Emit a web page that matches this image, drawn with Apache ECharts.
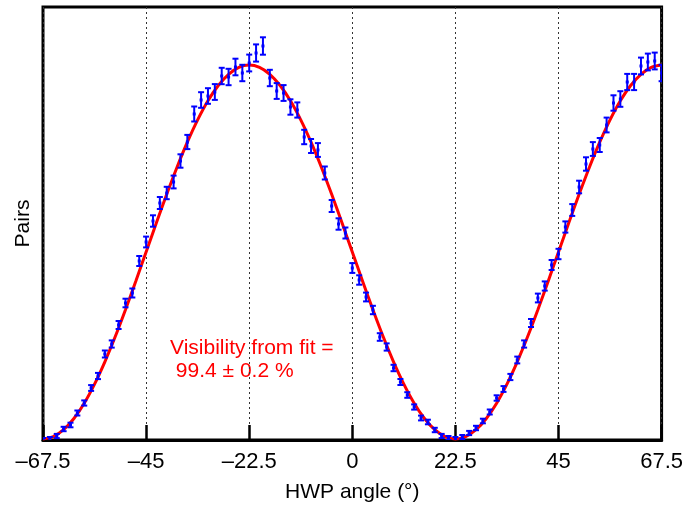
<!DOCTYPE html>
<html>
<head>
<meta charset="utf-8">
<script src="https://cdn.jsdelivr.net/npm/echarts@6/dist/echarts.min.js"></script>
<style>
  html, body { margin: 0; padding: 0; background: #fff; }
  #chart-container { width: 686px; height: 514px; }
</style>
</head>
<body>
<div id="chart-container"></div>
<script>
// HWP angles (deg) of the measured points, one every 1.5 deg
const angles = [
  -67.5, -66, -64.5, -63, -61.5, -60, -58.5, -57, -55.5, -54, -52.5, -51, -49.5, -48, -46.5,
  -45, -43.5, -42, -40.5, -39, -37.5, -36, -34.5, -33, -31.5, -30, -28.5, -27, -25.5, -24,
  -22.5, -21, -19.5, -18, -16.5, -15, -13.5, -12, -10.5, -9, -7.5, -6, -4.5, -3, -1.5,
  0, 1.5, 3, 4.5, 6, 7.5, 9, 10.5, 12, 13.5, 15, 16.5, 18, 19.5, 21,
  22.5, 24, 25.5, 27, 28.5, 30, 31.5, 33, 34.5, 36, 37.5, 39, 40.5, 42, 43.5,
  45, 46.5, 48, 49.5, 51, 52.5, 54, 55.5, 57, 58.5, 60, 61.5, 63, 64.5, 66, 67.5
];

const pairs = [
  0, 1, 4, 11, 15, 27, 37, 52, 64, 86, 96, 115, 137, 147, 179,
  198, 219, 237, 247, 258, 279, 298, 326, 340, 344, 348, 364, 363, 373, 367,
  377, 387, 394, 362, 349, 347, 333, 330, 303, 294, 290, 267, 234, 216, 207,
  172, 160, 143, 130, 103, 93, 72, 58, 45, 33, 22, 18, 10, 4, 2,
  1, 3, 7, 12, 19, 28, 42, 51, 63, 80, 96, 117, 142, 154, 175,
  186, 213, 230, 253, 276, 291, 295, 315, 337, 341, 358, 358, 374, 378, 379, 367
];

// half length of the error bars
const errors = [
  2, 2, 2.1, 2.2, 2.3, 2.5, 2.6, 2.9, 3.1, 3.5, 3.6, 4, 4.3, 4.5, 5,
  5.4, 5.7, 6, 6.2, 6.4, 6.7, 7.1, 7.5, 7.8, 7.8, 7.9, 8.2, 8.2, 8.3, 8.2,
  8.4, 8.6, 8.7, 8.2, 7.9, 7.9, 7.7, 7.6, 7.2, 7, 6.9, 6.5, 6, 5.7, 5.5,
  4.9, 4.7, 4.4, 4.2, 3.8, 3.6, 3.2, 3, 2.8, 2.6, 2.4, 2.3, 2.2, 2.1, 2,
  2, 2, 2.1, 2.2, 2.3, 2.5, 2.7, 2.9, 3.1, 3.4, 3.6, 4, 4.4, 4.6, 5,
  5.2, 5.6, 5.9, 6.3, 6.7, 6.9, 7, 7.4, 7.7, 7.8, 8.1, 8.1, 8.4, 8.4, 8.4, 8.2
];

// fit curve, sampled every 2.25 deg from -67.5 to 67.5
const fitStart = -67.5;
const fitStep = 2.25;
const fitValues = [
  1.1, 3.4, 10.3, 21.5, 36.8, 55.9, 78.2, 103.2, 130.3, 158.8,
  188, 217.2, 245.7, 272.8, 297.8, 320.1, 339.2, 354.5, 365.7, 372.6,
  374.9, 372.6, 365.7, 354.5, 339.2, 320.1, 297.8, 272.8, 245.7, 217.2,
  188, 158.8, 130.3, 103.2, 78.2, 55.9, 36.8, 21.5, 10.3, 3.4,
  1.1, 3.4, 10.3, 21.5, 36.8, 55.9, 78.2, 103.2, 130.3, 158.8,
  188, 217.2, 245.7, 272.8, 297.8, 320.1, 339.2, 354.5, 365.7, 372.6,
  374.9
];

const pointData = angles.map((a, i) => [a, pairs[i], errors[i]]);
const fitData = fitValues.map((v, i) => [fitStart + i * fitStep, v]);

const fontFam = '"Liberation Sans", Arial, Helvetica, sans-serif';

const myChart = echarts.init(document.getElementById('chart-container'));
const option = {
  animation: false,
  grid: {
    left: 43, right: 23, top: 7, bottom: 74,
    show: true,
    borderColor: '#000',
    borderWidth: 3,
    backgroundColor: 'transparent'
  },
  xAxis: {
    type: 'value',
    min: -67.5,
    max: 67.5,
    interval: 22.5,
    name: 'HWP angle (°)',
    nameLocation: 'middle',
    nameGap: 42,
    nameTextStyle: { color: '#000', fontSize: 21, fontFamily: fontFam },
    axisLine: { lineStyle: { color: '#000', width: 3 } },
    axisTick: { inside: true, length: 15, lineStyle: { color: '#000', width: 2.5 } },
    axisLabel: {
      color: '#000',
      fontSize: 22,
      fontFamily: fontFam,
      margin: 11,
      formatter: v => (v < 0 ? '\u2013' + Math.abs(v) : String(v))
    },
    splitLine: {
      show: true,
      lineStyle: { color: '#333', width: 1, type: [2, 3] }
    }
  },
  yAxis: {
    type: 'value',
    min: 0,
    max: 433,
    name: 'Pairs',
    nameLocation: 'middle',
    nameGap: 9,
    nameTextStyle: { color: '#000', fontSize: 21, fontFamily: fontFam },
    axisLine: { show: false },
    axisTick: { show: false },
    axisLabel: { show: false },
    splitLine: { show: false }
  },
  graphic: [{
    type: 'text',
    left: 170,
    top: 337,
    style: {
      text: 'Visibility from fit =\n 99.4 \u00b1 0.2 %',
      fill: '#ff0000',
      fontSize: 21,
      fontFamily: fontFam,
      lineHeight: 23
    }
  }],
  series: [
    {
      name: 'Fit',
      type: 'line',
      data: fitData,
      smooth: 0.3,
      showSymbol: false,
      clip: true,
      lineStyle: { color: '#ff0000', width: 3 },
      z: 2
    },
    {
      name: 'Pairs',
      type: 'custom',
      data: pointData,
      clip: true,
      z: 3,
      renderItem: (params, api) => {
        const x = api.value(0);
        const y = api.value(1);
        const e = api.value(2);
        const top = api.coord([x, y + e]);
        const bot = api.coord([x, y - e]);
        const mid = api.coord([x, y]);
        const cap = 3;
        const st = { stroke: '#0000ff', lineWidth: 2 };
        return {
          type: 'group',
          children: [
            { type: 'line', shape: { x1: top[0], y1: top[1], x2: bot[0], y2: bot[1] }, style: st },
            { type: 'line', shape: { x1: top[0] - cap, y1: top[1], x2: top[0] + cap, y2: top[1] }, style: st },
            { type: 'line', shape: { x1: bot[0] - cap, y1: bot[1], x2: bot[0] + cap, y2: bot[1] }, style: st },
            { type: 'rect', shape: { x: mid[0] - 1.5, y: mid[1] - 1.5, width: 3, height: 3 }, style: { fill: '#0000ff' } }
          ]
        };
      }
    }
  ]
};
myChart.setOption(option);
</script>
</body>
</html>
